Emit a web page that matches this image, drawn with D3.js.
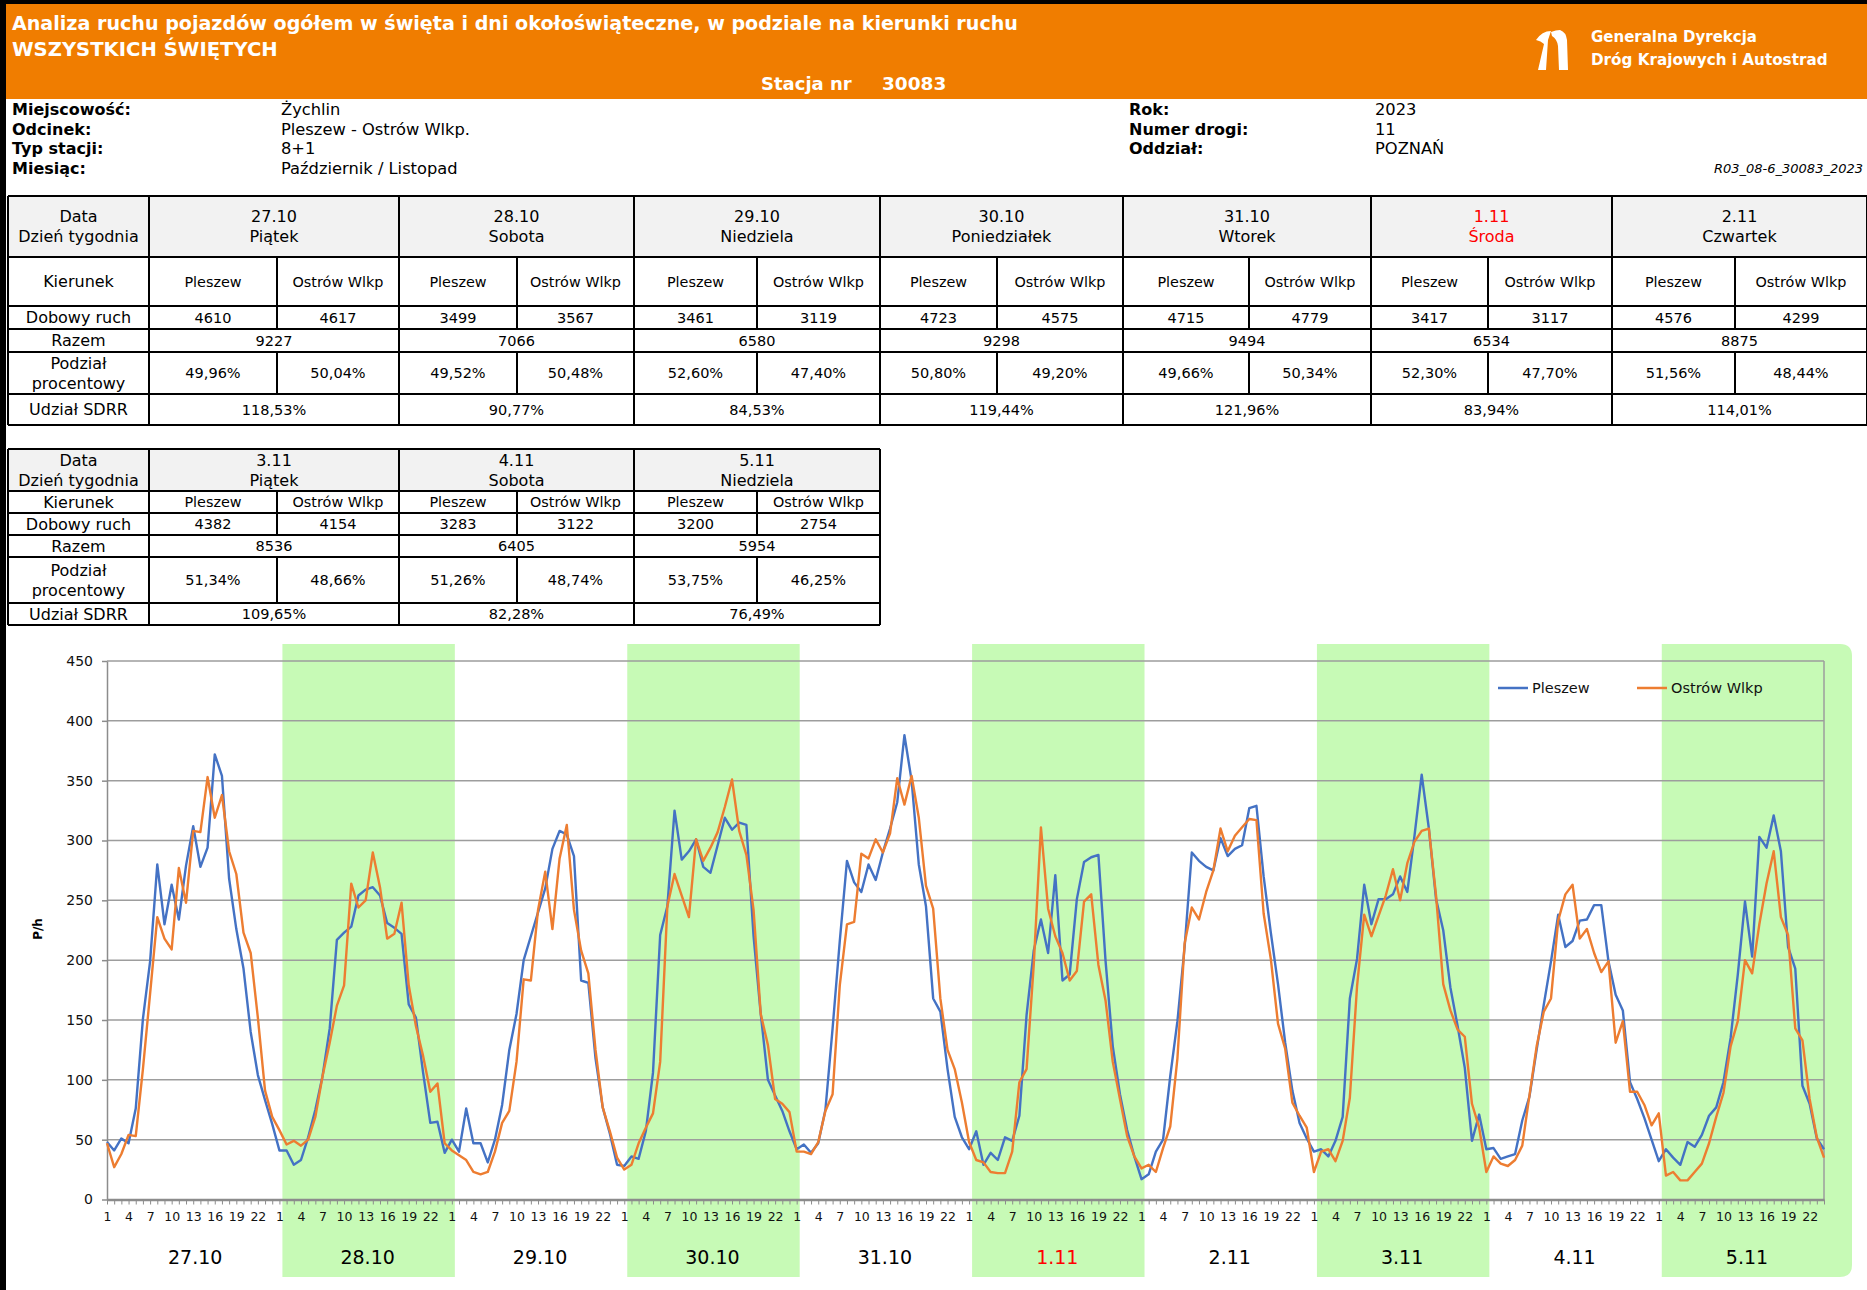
<!DOCTYPE html>
<html>
<head>
<meta charset="utf-8">
<script src="https://cdn.jsdelivr.net/npm/d3@7"></script>
<style>
  body { margin: 0; background: #fff; }
  svg text { font-family: "DejaVu Sans", Verdana, sans-serif; }
</style>
</head>
<body>
<svg id="page" width="1867" height="1290"></svg>
<script>
// ---- data ----
var dates = ["27.10", "28.10", "29.10", "30.10", "31.10", "1.11", "2.11", "3.11", "4.11", "5.11"];
var weekdays = ["Piątek", "Sobota", "Niedziela", "Poniedziałek", "Wtorek", "Środa", "Czwartek", "Piątek", "Sobota", "Niedziela"];
var holiday = "1.11";
var shadedDays = [1, 3, 5, 7, 9];
var directions = ["Pleszew", "Ostrów Wlkp"];

var dailyPleszew = [4610, 3499, 3461, 4723, 4715, 3417, 4576, 4382, 3283, 3200];
var dailyOstrow  = [4617, 3567, 3119, 4575, 4779, 3117, 4299, 4154, 3122, 2754];
var dailyTotal   = [9227, 7066, 6580, 9298, 9494, 6534, 8875, 8536, 6405, 5954];
var sharePleszew = ["49,96%", "49,52%", "52,60%", "50,80%", "49,66%", "52,30%", "51,56%", "51,34%", "51,26%", "53,75%"];
var shareOstrow  = ["50,04%", "50,48%", "47,40%", "49,20%", "50,34%", "47,70%", "48,44%", "48,66%", "48,74%", "46,25%"];
var sdrrShare    = ["118,53%", "90,77%", "84,53%", "119,44%", "121,96%", "83,94%", "114,01%", "109,65%", "82,28%", "76,49%"];

// hourly traffic (P/h), one row of 24 hours per day
var pleszewHourly = [
  [48, 41, 51, 47, 76, 151, 199, 280, 230, 263, 234, 279, 312, 278, 294, 372, 354, 268, 226, 193, 140, 104, 83, 63],
  [41, 41, 29, 33, 52, 75, 103, 143, 217, 223, 228, 254, 259, 261, 254, 231, 227, 222, 163, 152, 106, 64, 65, 39],
  [50, 40, 76, 47, 47, 31, 50, 79, 125, 155, 200, 220, 240, 260, 293, 308, 305, 287, 183, 181, 118, 77, 55, 29],
  [28, 36, 34, 57, 106, 221, 245, 325, 284, 291, 301, 278, 273, 296, 319, 309, 315, 313, 220, 155, 100, 87, 74, 57],
  [42, 46, 39, 47, 75, 143, 216, 283, 265, 257, 280, 267, 290, 310, 332, 388, 350, 280, 245, 168, 157, 109, 69, 52],
  [42, 57, 29, 39, 33, 52, 49, 70, 154, 208, 234, 206, 271, 183, 188, 251, 282, 286, 288, 199, 128, 88, 58, 36],
  [17, 21, 40, 50, 103, 149, 211, 290, 283, 278, 275, 302, 287, 293, 296, 327, 329, 270, 223, 180, 131, 91, 64, 51],
  [40, 42, 36, 49, 69, 168, 201, 263, 230, 251, 251, 255, 270, 257, 304, 355, 310, 251, 225, 177, 145, 110, 49, 71],
  [42, 43, 34, 36, 38, 66, 86, 125, 163, 199, 238, 211, 216, 233, 234, 246, 246, 199, 171, 158, 98, 84, 68, 50],
  [32, 42, 35, 29, 48, 44, 54, 70, 77, 98, 135, 188, 249, 203, 303, 294, 321, 291, 211, 193, 95, 80, 51, 42]
];
var ostrowHourly = [
  [47, 27, 38, 54, 53, 109, 172, 236, 218, 209, 277, 248, 308, 307, 353, 319, 338, 291, 272, 223, 206, 152, 91, 69],
  [58, 46, 49, 45, 50, 69, 103, 131, 162, 179, 264, 244, 250, 290, 261, 218, 222, 248, 179, 145, 120, 90, 97, 47],
  [41, 37, 33, 23, 21, 23, 40, 64, 74, 115, 184, 183, 242, 274, 226, 285, 313, 242, 208, 189, 125, 77, 57, 35],
  [25, 29, 47, 60, 72, 115, 245, 272, 254, 236, 301, 283, 294, 307, 328, 351, 308, 288, 242, 155, 129, 84, 80, 73],
  [40, 40, 38, 48, 74, 88, 179, 230, 232, 289, 285, 301, 290, 306, 352, 330, 354, 319, 262, 243, 168, 125, 109, 81],
  [48, 33, 31, 23, 22, 22, 40, 98, 109, 196, 311, 243, 220, 206, 183, 191, 249, 255, 196, 166, 115, 84, 53, 36],
  [26, 29, 23, 43, 61, 118, 214, 244, 234, 257, 275, 310, 291, 304, 311, 318, 317, 239, 201, 147, 126, 81, 70, 60],
  [23, 40, 42, 32, 49, 85, 178, 238, 220, 237, 254, 276, 250, 281, 299, 308, 310, 254, 180, 158, 142, 136, 80, 60],
  [23, 36, 30, 28, 33, 45, 87, 128, 157, 168, 233, 255, 263, 218, 226, 206, 190, 199, 131, 149, 90, 90, 79, 62],
  [72, 20, 23, 16, 16, 23, 30, 47, 69, 89, 128, 149, 200, 189, 230, 264, 291, 236, 221, 143, 133, 84, 52, 35]
];
var yTicks = [0, 50, 100, 150, 200, 250, 300, 350, 400, 450];

var infoLeft = [["Miejscowość:", "Żychlin"], ["Odcinek:", "Pleszew - Ostrów Wlkp."], ["Typ stacji:", "8+1"], ["Miesiąc:", "Październik / Listopad"]];
var infoRight = [["Rok:", "2023"], ["Numer drogi:", "11"], ["Oddział:", "POZNAŃ"]];

// ---- colours ----
var orange = "#f07d00", blue = "#4472c4", orangeLine = "#ed7d31", green = "#c7fab6";

var svg = d3.select("#page");

// page frame
svg.append("rect").attr("x", 0).attr("y", 0).attr("width", 1867).attr("height", 4).attr("fill", "#000");
svg.append("rect").attr("x", 0).attr("y", 0).attr("width", 6).attr("height", 1290).attr("fill", "#000");

// ---- orange header ----
svg.append("rect").attr("x", 6).attr("y", 4).attr("width", 1861).attr("height", 95).attr("fill", orange);
var head = svg.append("g").attr("fill", "#fff").attr("font-weight", "bold");
head.append("text").attr("x", 12).attr("y", 30).attr("font-size", 19.1)
  .text("Analiza ruchu pojazdów ogółem w święta i dni okołoświąteczne, w podziale na kierunki ruchu");
head.append("text").attr("x", 12).attr("y", 56).attr("font-size", 19.6).text("WSZYSTKICH ŚWIĘTYCH");
head.append("text").attr("x", 761).attr("y", 90).attr("font-size", 18).text("Stacja nr");
head.append("text").attr("x", 882).attr("y", 90).attr("font-size", 18.5).text("30083");
head.append("text").attr("x", 1591).attr("y", 42).attr("font-size", 15).text("Generalna Dyrekcja");
head.append("text").attr("x", 1591).attr("y", 65).attr("font-size", 15.2).text("Dróg Krajowych i Autostrad");

// logo, two white lanes
head.append("path").attr("d", "M1536,40 Q1542,31 1551,31 L1548,40 L1546,70 L1538,70 L1544,44 Q1541,41 1536,40 Z");
head.append("path").attr("d", "M1551,32 Q1556,30 1560,30 Q1566,32 1567,40 L1568,70 L1559,70 L1558,46 Q1557,39 1552,36 Z");

// ---- station info ----
var info = svg.append("g").attr("font-size", 16.3).attr("fill", "#000");
infoLeft.forEach(function(r, i) {
  info.append("text").attr("x", 12).attr("y", 115 + i * 19.5).attr("font-weight", "bold").attr("font-size", 16).text(r[0]);
  info.append("text").attr("x", 281).attr("y", 115 + i * 19.5).text(r[1]);
});
infoRight.forEach(function(r, i) {
  info.append("text").attr("x", 1129).attr("y", 115 + i * 19.5).attr("font-weight", "bold").attr("font-size", 16).text(r[0]);
  info.append("text").attr("x", 1375).attr("y", 115 + i * 19.5).text(r[1]);
});
info.append("text").attr("x", 1863).attr("y", 173).attr("text-anchor", "end")
  .attr("font-size", 13).attr("font-style", "italic").text("R03_08-6_30083_2023");

// ---- tables ----
function drawTable(days, rowY, edges, splits) {
  var g = svg.append("g");
  var left = 8, right = edges[edges.length - 1];
  g.append("rect").attr("x", left).attr("y", rowY[0]).attr("width", right - left)
    .attr("height", rowY[1] - rowY[0]).attr("fill", "#f2f2f2");

  var lines = g.append("g").attr("stroke", "#000").attr("stroke-width", 2);
  rowY.forEach(function(yy) {
    lines.append("line").attr("x1", left).attr("x2", right).attr("y1", yy).attr("y2", yy);
  });
  [left].concat(edges).forEach(function(xx) {
    lines.append("line").attr("x1", xx).attr("x2", xx).attr("y1", rowY[0]).attr("y2", rowY[6]);
  });
  splits.forEach(function(xx) {
    lines.append("line").attr("x1", xx).attr("x2", xx).attr("y1", rowY[1]).attr("y2", rowY[3]);
    lines.append("line").attr("x1", xx).attr("x2", xx).attr("y1", rowY[4]).attr("y2", rowY[5]);
  });

  var t = g.append("g").attr("text-anchor", "middle").attr("fill", "#000");
  function mid(r) { return (rowY[r] + rowY[r + 1]) / 2; }
  function put(xx, yy, s, size, col) {
    t.append("text").attr("x", xx).attr("y", yy).attr("dy", "0.36em").attr("font-size", size)
      .attr("fill", col || "#000").text(s);
  }
  var lx = (left + edges[0]) / 2;
  put(lx, mid(0) - 10, "Data", 16);
  put(lx, mid(0) + 10, "Dzień tygodnia", 16);
  put(lx, mid(1), "Kierunek", 16);
  put(lx, mid(2), "Dobowy ruch", 16);
  put(lx, mid(3), "Razem", 16);
  put(lx, mid(4) - 10, "Podział", 16);
  put(lx, mid(4) + 10, "procentowy", 16);
  put(lx, mid(5), "Udział SDRR", 16);

  days.forEach(function(d, k) {
    var x0 = edges[k], x1 = edges[k + 1], xs = splits[k];
    var cc = (x0 + x1) / 2, c1 = (x0 + xs) / 2, c2 = (xs + x1) / 2;
    var col = dates[d] === holiday ? "#ff0000" : "#000";
    put(cc, mid(0) - 10, dates[d], 16, col);
    put(cc, mid(0) + 10, weekdays[d], 16, col);
    put(c1, mid(1), directions[0], 14.4);
    put(c2, mid(1), directions[1], 14.4);
    put(c1, mid(2), dailyPleszew[d], 14.5);
    put(c2, mid(2), dailyOstrow[d], 14.5);
    put(cc, mid(3), dailyTotal[d], 14.5);
    put(c1, mid(4), sharePleszew[d], 14.5);
    put(c2, mid(4), shareOstrow[d], 14.5);
    put(cc, mid(5), sdrrShare[d], 14.5);
  });
}

drawTable([0, 1, 2, 3, 4, 5, 6], [196, 257, 306, 329, 352, 394, 425],
  [149, 399, 634, 880, 1123, 1371, 1612, 1867], [277, 517, 757, 997, 1249, 1488, 1735]);
drawTable([7, 8, 9], [449, 491, 513, 535, 557, 603, 625],
  [149, 399, 634, 880], [277, 517, 757]);

// ---- chart ----
var chartFont = "Lato, 'Liberation Sans', sans-serif";
var nPts = pleszewHourly.length * 24;
var x = d3.scalePoint().domain(d3.range(nPts)).range([107, 1824]);
var y = d3.scaleLinear().domain([0, 450]).range([1199.5, 661]);
var step = x.step();

var chart = svg.append("g");

// green shading of alternate days (drawn behind everything)
shadedDays.forEach(function(d) {
  var x0 = x(d * 24) + 3, x1 = x(d * 24) + 24 * step + 3, top = 644, bot = 1277;
  if (d === dates.length - 1) {
    x1 = 1852;
    var r = 12;
    chart.append("path").attr("fill", green)
      .attr("d", "M" + x0 + "," + top + " L" + (x1 - r) + "," + top + " Q" + x1 + "," + top + " " + x1 + "," + (top + r) +
        " L" + x1 + "," + (bot - r) + " Q" + x1 + "," + bot + " " + (x1 - r) + "," + bot + " L" + x0 + "," + bot + " Z");
  } else {
    chart.append("rect").attr("x", x0).attr("y", top).attr("width", x1 - x0).attr("height", bot - top).attr("fill", green);
  }
});

// horizontal gridlines
chart.selectAll(".grid").data(yTicks.slice(1)).enter().append("line")
  .attr("x1", 107).attr("x2", 1824)
  .attr("y1", function(d) { return y(d); }).attr("y2", function(d) { return y(d); })
  .attr("stroke", "#9d9d9d").attr("stroke-width", 1.5);
// right border of plot area
chart.append("line").attr("x1", 1824).attr("x2", 1824).attr("y1", y(450)).attr("y2", y(0))
  .attr("stroke", "#9d9d9d").attr("stroke-width", 1.5);

// y axis
var yAxis = chart.append("g").attr("transform", "translate(107,0)")
  .call(d3.axisLeft(y).tickValues(yTicks).tickSize(5).tickSizeOuter(0).tickPadding(9));
yAxis.selectAll("path, line").attr("stroke", "#8c8c8c").attr("stroke-width", 1.5);
yAxis.selectAll("text").attr("font-family", chartFont).attr("font-size", 14).attr("fill", "#111");

// x axis: a tick on every hour, label on every third one
var xAxis = chart.append("g").attr("transform", "translate(0," + y(0) + ")")
  .call(d3.axisBottom(x).tickSize(5).tickSizeOuter(0).tickPadding(8)
    .tickFormat(function(i) { return i % 3 === 0 ? String(i % 24 + 1) : ""; }));
xAxis.select(".domain").attr("stroke", "#8c8c8c").attr("stroke-width", 2.5);
xAxis.selectAll(".tick line").attr("stroke", "#8c8c8c").attr("stroke-width", 1);
xAxis.selectAll("text").attr("font-family", chartFont).attr("font-size", 12.5).attr("fill", "#111");

// axis title
chart.append("text").attr("transform", "translate(42,929) rotate(-90)").attr("text-anchor", "middle")
  .attr("font-family", chartFont).attr("font-size", 12).attr("font-weight", "bold").text("P/h");

// day labels under the axis
chart.selectAll(".dayLabel").data(dates).enter().append("text")
  .attr("x", function(d, i) { return x(i * 24) + 12 * step + 2; })
  .attr("y", 1264).attr("text-anchor", "middle")
  .attr("font-family", chartFont).attr("font-size", 19)
  .attr("fill", function(d) { return d === holiday ? "#ff0000" : "#000"; })
  .text(function(d) { return d; });

// series
var line = d3.line().x(function(d, i) { return x(i); }).y(function(d) { return y(d); });
chart.append("path").datum(pleszewHourly.flat()).attr("d", line)
  .attr("fill", "none").attr("stroke", blue).attr("stroke-width", 2.4).attr("stroke-linejoin", "round");
chart.append("path").datum(ostrowHourly.flat()).attr("d", line)
  .attr("fill", "none").attr("stroke", orangeLine).attr("stroke-width", 2.4).attr("stroke-linejoin", "round");

// legend
var legend = chart.append("g").attr("font-family", chartFont).attr("font-size", 14.5);
[[directions[0], blue, 1498], [directions[1], orangeLine, 1637]].forEach(function(l) {
  legend.append("line").attr("x1", l[2]).attr("x2", l[2] + 30).attr("y1", 688).attr("y2", 688)
    .attr("stroke", l[1]).attr("stroke-width", 2.5);
  legend.append("text").attr("x", l[2] + 34).attr("y", 688).attr("dy", "0.35em").attr("fill", "#111").text(l[0]);
});
</script>
</body>
</html>
